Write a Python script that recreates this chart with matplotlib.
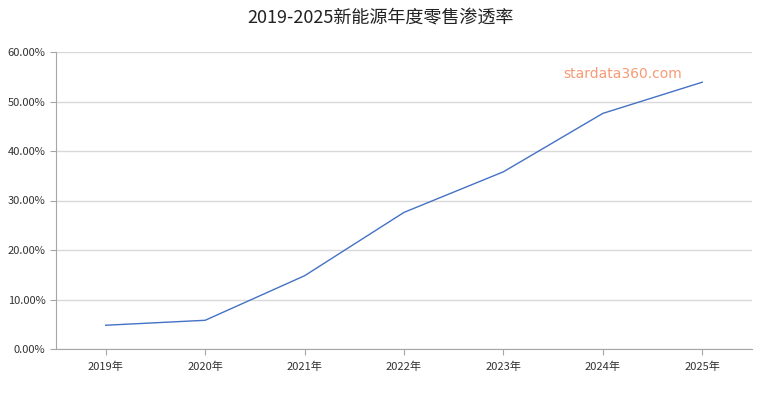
import numpy as np
import matplotlib.pyplot as plt

plt.rcParams['font.family'] = ['Noto Sans CJK SC', 'DejaVu Sans']

years = ['2019年', '2020年', '2021年', '2022年', '2023年', '2024年', '2025年']
rate = [4.8, 5.8, 14.8, 27.6, 35.8, 47.6, 53.9]

fig = plt.figure(figsize=(7.61, 3.96), dpi=100)
ax = fig.add_axes([56 / 761, 47 / 396, 696 / 761, 297 / 396])

x = np.arange(len(years))
ax.plot(x, rate, color='#4472c4', linewidth=1)

ax.set_xlim(-0.5, len(years) - 0.5)
ax.set_ylim(0, 60)
ax.set_yticks(np.arange(0, 61, 10))
ax.set_yticklabels(['%.2f%%' % v for v in np.arange(0, 61, 10)])
ax.set_xticks(x)
ax.set_xticklabels(years)

ax.grid(axis='y', color='#d9d9d9', linewidth=1)
ax.set_axisbelow(True)
for s in ['top', 'right']:
    ax.spines[s].set_visible(False)
for s in ['left', 'bottom']:
    ax.spines[s].set_color('#a6a6a6')
ax.tick_params(axis='both', colors='#a6a6a6', labelcolor='#333333', labelsize=8, length=4)
ax.tick_params(axis='x', pad=5)

ax.text(0.814, 0.925, 'stardata360.com', transform=ax.transAxes, ha='center', va='center',
        color='#f79a75', fontsize=10, family=['DejaVu Sans'])

fig.suptitle('2019-2025新能源年度零售渗透率', y=0.975, fontsize=13, color='#222222')

fig.savefig('out.png', dpi=100)
